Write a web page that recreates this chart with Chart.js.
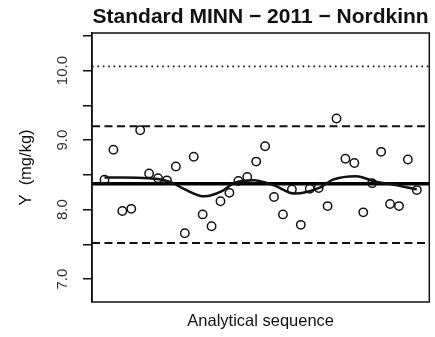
<!DOCTYPE html>
<html>
<head>
<meta charset="utf-8"/>
<title>Standard MINN - 2011 - Nordkinn</title>
<script src="https://cdn.jsdelivr.net/npm/chart.js@4.4.1/dist/chart.umd.min.js"></script>
<style>
  html, body { margin: 0; padding: 0; background: #fff; }
  #wrap { width: 435px; height: 337px; }
</style>
</head>
<body>
<div id="wrap"><canvas id="myChart" width="435" height="337"></canvas></div>
<script>
// measured values in analytical sequence order
var results = [8.43, 8.86, 7.98, 8.01, 9.14, 8.52, 8.45, 8.42, 8.62, 7.66,
               8.76, 7.93, 7.76, 8.12, 8.24, 8.41, 8.47, 8.69, 8.91, 8.18,
               7.93, 8.29, 7.78, 8.30, 8.31, 8.05, 9.31, 8.73, 8.67, 7.96,
               8.38, 8.83, 8.08, 8.05, 8.72, 8.28];
// smoothed trend
var smoothX = [1, 3, 6, 7.5, 8.5, 10, 12.2, 14.1, 15.5, 17.8, 19, 20, 22.3, 25.2, 26.6, 29.2, 31.4, 33.3, 36];
var smoothY = [8.46, 8.46, 8.45, 8.43, 8.39, 8.29, 8.19, 8.26, 8.38, 8.42, 8.39, 8.35, 8.23, 8.32, 8.43, 8.48, 8.40, 8.36, 8.29];
// reference levels
var meanLevel = 8.37;
var limitLevels = [9.20, 7.52];
var certLevel = 10.06;
var yTickLabels = [7, 8, 9, 10];

var xMin = -0.4, xMax = 37.4;
var yMin = 6.67, yMax = 10.54;

var pts = results.map(function (v, i) { return {x: i + 1, y: v}; });
var smooth = smoothX.map(function (x, i) { return {x: x, y: smoothY[i]}; });
function hline(v) { return [{x: xMin, y: v}, {x: xMax, y: v}]; }

var boxPlugin = {
  id: 'boxAndLabels',
  afterDraw: function (chart) {
    var ctx = chart.ctx, a = chart.chartArea, ys = chart.scales.y;
    ctx.save();
    ctx.strokeStyle = '#111';
    ctx.lineWidth = 1.5;
    ctx.strokeRect(a.left, a.top, a.right - a.left, a.bottom - a.top);
    // title over plot region
    ctx.fillStyle = '#111';
    ctx.font = 'bold 21px "Liberation Sans", Arial, sans-serif';
    ctx.textAlign = 'center';
    ctx.textBaseline = 'alphabetic';
    ctx.fillText('Standard MINN \u2212 2011 \u2212 Nordkinn', (a.left + a.right) / 2, 23);
    // rotated y tick labels
    ctx.fillStyle = '#333';
    ctx.font = '15px "Liberation Sans", Arial, sans-serif';
    ctx.textBaseline = 'middle';
    yTickLabels.forEach(function (v) {
      ctx.save();
      ctx.translate(63, ys.getPixelForValue(v));
      ctx.rotate(-Math.PI / 2);
      ctx.fillText(v.toFixed(1), 0, 0);
      ctx.restore();
    });
    ctx.restore();
  }
};

var ctx = document.getElementById('myChart').getContext('2d');
var chart = new Chart(ctx, {
  type: 'scatter',
  data: {
    datasets: [{
      label: 'results',
      data: pts,
      showLine: false,
      pointRadius: 4.2,
      pointBorderWidth: 1.5,
      pointBorderColor: '#111',
      pointBackgroundColor: 'rgba(0,0,0,0)'
    }, {
      label: 'trend',
      data: smooth,
      showLine: true,
      pointRadius: 0,
      borderColor: '#111',
      borderWidth: 2.5,
      cubicInterpolationMode: 'monotone'
    }, {
      label: 'mean',
      data: hline(meanLevel),
      showLine: true,
      pointRadius: 0,
      borderColor: '#000',
      borderWidth: 3.5
    }, {
      label: 'upper',
      data: hline(limitLevels[0]),
      showLine: true,
      pointRadius: 0,
      borderColor: '#111',
      borderWidth: 2,
      borderDash: [8, 4.5]
    }, {
      label: 'lower',
      data: hline(limitLevels[1]),
      showLine: true,
      pointRadius: 0,
      borderColor: '#111',
      borderWidth: 2,
      borderDash: [8, 4.5]
    }, {
      label: 'certified',
      data: hline(certLevel),
      showLine: true,
      pointRadius: 0,
      borderColor: '#111',
      borderWidth: 1.6,
      borderDash: [1.6, 3.8]
    }]
  },
  options: {
    responsive: false,
    animation: false,
    devicePixelRatio: 1,
    layout: { padding: { left: 0, right: 3, top: 33, bottom: 0 } },
    plugins: {
      legend: { display: false },
      title: { display: false },
      tooltip: { enabled: false }
    },
    scales: {
      x: {
        type: 'linear',
        min: xMin,
        max: xMax,
        grid: { display: false },
        border: { display: false },
        ticks: { display: false },
        title: {
          display: true,
          text: 'Analytical sequence',
          color: '#111',
          font: { family: '"Liberation Sans", Arial, sans-serif', size: 16.5 },
          padding: { top: 0, bottom: 6 }
        },
        afterFit: function (s) { s.height = 35; }
      },
      y: {
        min: yMin,
        max: yMax,
        ticks: { display: false, stepSize: 0.5, includeBounds: false },
        grid: { drawOnChartArea: false, drawTicks: true, tickLength: 9, color: '#111', lineWidth: 1.5 },
        border: { display: true, color: '#111', width: 1.5 },
        title: {
          display: true,
          text: 'Y  (mg/kg)',
          color: '#111',
          font: { family: '"Liberation Sans", Arial, sans-serif', size: 16.5 },
          padding: { top: 17, bottom: 0 }
        },
        afterFit: function (s) { s.width = 92; }
      }
    }
  },
  plugins: [boxPlugin]
});
</script>
</body>
</html>
